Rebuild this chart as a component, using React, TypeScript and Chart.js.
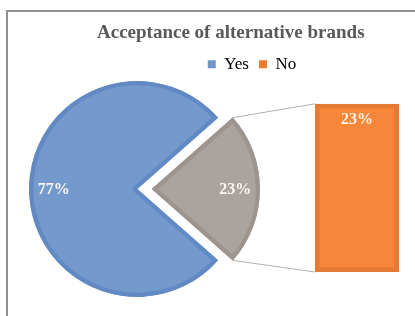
import React, { useEffect, useRef } from "react";
import { Chart, registerables } from "chart.js";

Chart.register(...registerables);

const chartTitle = "Acceptance of alternative brands";
const categories = ["Yes", "No"];
const values = [77, 23];
const barCategories = ["No"];
const barValues = [23];

const pieFill = ["#7399cd", "#aba39d"];
const pieBorder = ["#6189c3", "#9d948d"];
const legendColors = ["#6f95c9", "#ec7a31"];
const barFill = "#f5873a";
const barBorder = "#e47b33";

const total = values.reduce((a, b) => a + b, 0);
const pctLabels = values.map((v) => Math.round((v / total) * 100) + "%");

const BAR_LEFT = 97;

export default function App() {
  const pieRef = useRef<HTMLCanvasElement | null>(null);
  const barRef = useRef<HTMLCanvasElement | null>(null);

  useEffect(() => {
    const barLabelPlugin = {
      id: "barLabel",
      afterDatasetsDraw(chart: any) {
        const ctx = chart.ctx;
        const bar = chart.getDatasetMeta(0).data[0];
        ctx.save();
        ctx.fillStyle = "#fdf3ec";
        ctx.font = "bold 16px 'Liberation Serif'";
        ctx.textAlign = "center";
        ctx.textBaseline = "middle";
        ctx.fillText(pctLabels[1], bar.x, bar.y + 16);
        ctx.restore();
      },
    };

    const barChart = new Chart(barRef.current as HTMLCanvasElement, {
      type: "bar",
      data: {
        labels: barCategories,
        datasets: [
          {
            data: barValues,
            backgroundColor: barFill,
            borderColor: barBorder,
            borderWidth: 5,
            borderSkipped: false,
            barPercentage: 1,
            categoryPercentage: 1,
          },
        ],
      },
      options: {
        responsive: false,
        animation: false,
        events: [],
        layout: { padding: 0 },
        scales: {
          x: {
            position: "top",
            display: true,
            grid: { display: false },
            border: { display: false },
            ticks: { display: false },
            afterFit: (s: any) => {
              s.height = 21;
            },
          },
          y: {
            display: true,
            min: 0,
            max: 23,
            grid: { display: false },
            border: { display: false },
            ticks: { display: false },
            afterFit: (s: any) => {
              s.width = 218;
            },
          },
          y2: {
            position: "right",
            display: true,
            min: 0,
            max: 23,
            grid: { display: false },
            border: { display: false },
            ticks: { display: false },
            afterFit: (s: any) => {
              s.width = 8;
            },
          },
        },
        plugins: {
          title: {
            display: true,
            text: chartTitle,
            align: "start",
            color: "#595959",
            font: { family: "'Liberation Serif'", size: 19, weight: "bold" },
            padding: { top: 22, bottom: 1 },
          },
          legend: {
            display: true,
            labels: {
              boxWidth: 8,
              boxHeight: 8,
              padding: 10,
              color: "#404040",
              font: { family: "'Liberation Serif'", size: 17 },
              generateLabels: () =>
                categories.map((c, i) => ({
                  text: c,
                  fillStyle: legendColors[i],
                  strokeStyle: legendColors[i],
                  lineWidth: 0,
                  hidden: false,
                  datasetIndex: 0,
                })),
            },
          },
          tooltip: { enabled: false },
        },
      } as any,
      plugins: [barLabelPlugin],
    });

    const piePlugin = {
      id: "pieExtras",
      afterDatasetsDraw(chart: any) {
        const ctx = chart.ctx;
        const arcs = chart.getDatasetMeta(0).data;
        // connectors from exploded slice to the bar
        const g = arcs[1];
        const gOff = (g.options.offset || 0) / 4;
        const gMid = (g.startAngle + g.endAngle) / 2;
        const gcx = g.x + Math.cos(gMid) * gOff;
        const gcy = g.y + Math.sin(gMid) * gOff;
        const R = g.outerRadius;
        const bar = barChart.getDatasetMeta(0).data[0] as any;
        const barLeft = BAR_LEFT + bar.x - bar.width / 2;
        ctx.save();
        ctx.strokeStyle = "#b3aea9";
        ctx.lineWidth = 1;
        ctx.beginPath();
        ctx.moveTo(gcx + Math.cos(g.startAngle) * R, gcy + Math.sin(g.startAngle) * R);
        ctx.lineTo(barLeft, bar.y);
        ctx.moveTo(gcx + Math.cos(g.endAngle) * R, gcy + Math.sin(g.endAngle) * R);
        ctx.lineTo(barLeft, bar.base);
        ctx.stroke();
        // percentage labels
        ctx.fillStyle = "#fbf7f3";
        ctx.font = "bold 16px 'Liberation Serif'";
        ctx.textAlign = "center";
        ctx.textBaseline = "middle";
        arcs.forEach((arc: any, i: number) => {
          const mid = (arc.startAngle + arc.endAngle) / 2;
          const off = (arc.options.offset || 0) / 4;
          const r = arc.outerRadius * 0.77 + off;
          ctx.fillText(pctLabels[i], arc.x + Math.cos(mid) * r, arc.y + Math.sin(mid) * r + 1);
        });
        ctx.restore();
      },
    };

    const pieChart = new Chart(pieRef.current as HTMLCanvasElement, {
      type: "pie",
      data: {
        labels: categories,
        datasets: [
          {
            data: values,
            backgroundColor: pieFill,
            borderColor: pieBorder,
            borderWidth: 4,
            borderAlign: "inner",
            offset: [0, 60],
          },
        ],
      },
      options: {
        responsive: false,
        animation: false,
        events: [],
        rotation: 131.4,
        radius: 108,
        layout: { padding: { left: 0, right: 141, top: 72, bottom: 10 } },
        plugins: {
          legend: { display: false },
          title: { display: false },
          tooltip: { enabled: false },
        },
      } as any,
      plugins: [piePlugin],
    });

    return () => {
      pieChart.destroy();
      barChart.destroy();
    };
  }, []);

  return (
    <div
      style={{
        position: "absolute",
        left: 0,
        top: 0,
        width: 415,
        height: 316,
        overflow: "hidden",
        background: "#ffffff",
      }}
    >
      <div
        style={{
          position: "absolute",
          left: 6,
          top: 10,
          width: 440,
          height: 340,
          borderTop: "2px solid #8e8e8e",
          borderLeft: "2px solid #8e8e8e",
        }}
      />
      <canvas
        ref={pieRef}
        width={415}
        height={316}
        style={{ position: "absolute", left: 0, top: 0, width: 415, height: 316 }}
      />
      <canvas
        ref={barRef}
        width={310}
        height={272}
        style={{ position: "absolute", left: BAR_LEFT, top: 0, width: 310, height: 272 }}
      />
    </div>
  );
}
